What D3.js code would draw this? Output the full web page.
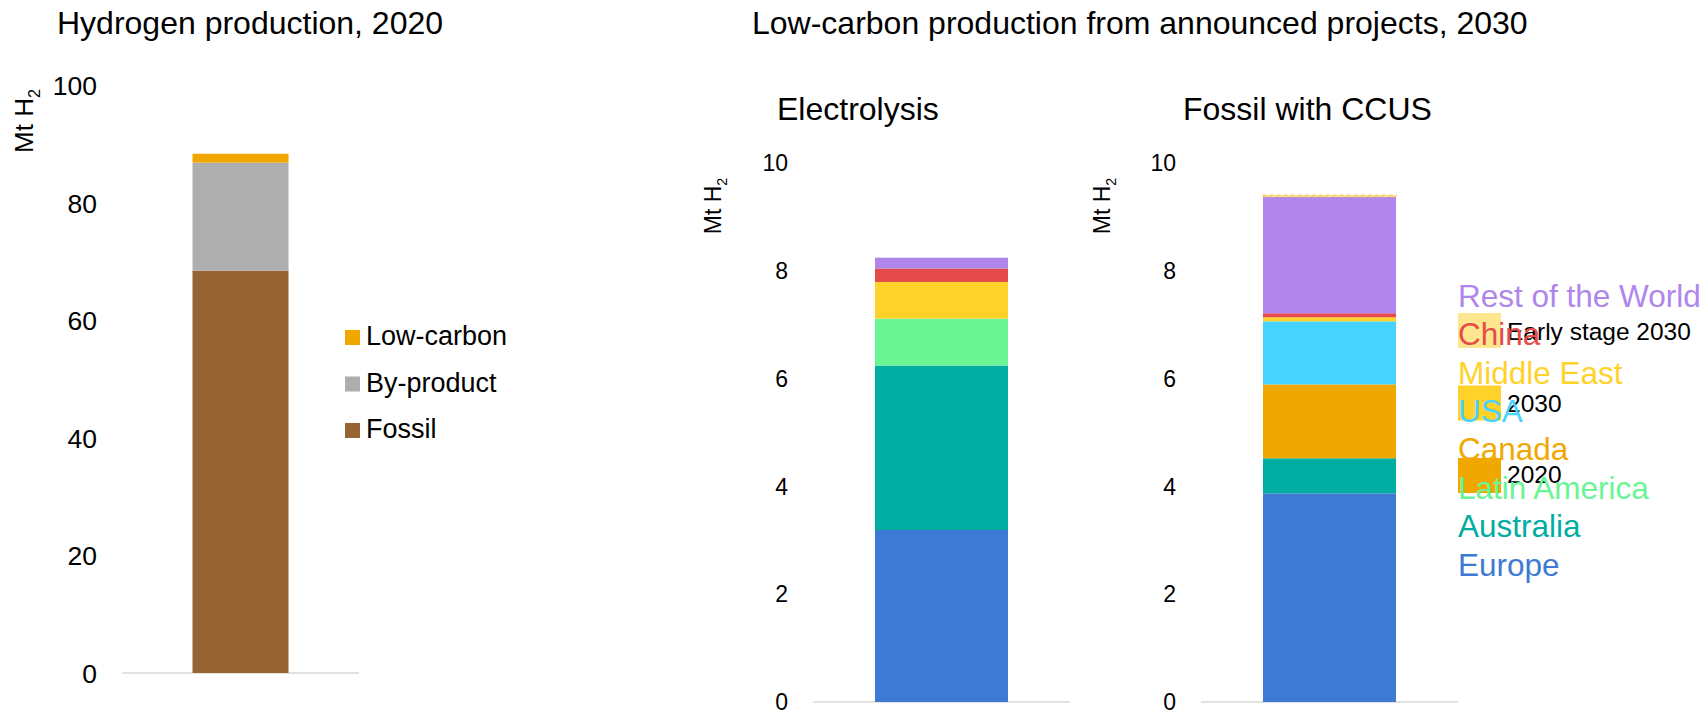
<!DOCTYPE html>
<html>
<head>
<meta charset="utf-8">
<script src="https://cdn.jsdelivr.net/npm/d3@7"></script>
<style>
    body { margin: 0; background: #fff; }
    svg { font-family: "Liberation Sans", Arial, sans-serif; }
</style>
</head>
<body>
<div id="chart"></div>
<script>

// hydrogen production 2020 (Mt H2)
const sources = ["Fossil", "By-product", "Low-carbon"];
const production2020 = [68.5, 18.4, 1.5];
const leftTicks = [0, 20, 40, 60, 80, 100];

// low-carbon production from announced projects, 2030 (Mt H2)
const routes = ["Electrolysis", "Fossil with CCUS"];
const regions = ["Europe", "Australia", "Latin America", "Canada", "USA", "Middle East", "China", "Rest of the World"];
const electrolysis = [3.19, 3.05, 0.87, 0, 0, 0.68, 0.25, 0.20];
const fossilCcus = [3.87, 0.65, 0, 1.37, 1.17, 0.075, 0.075, 2.16];
const earlyStage = [0, 0.03];
const rightTicks = [0, 2, 4, 6, 8, 10];

// status legend
const statusLabels = ["Early stage 2030", "2030", "2020"];

const sourceColors = {"Fossil": "#976434", "By-product": "#aeaeae", "Low-carbon": "#f0a800"};
const regionColors = {
    "Europe": "#3e7ad3", "Australia": "#00ada1", "Latin America": "#6af594", "Canada": "#f0a800",
    "USA": "#46d3ff", "Middle East": "#ffd22a", "China": "#e54b4b", "Rest of the World": "#b085ec"
};
const statusColors = ["#fee68e", "#ffd22a", "#f0a800"];

const W = 1706, H = 711;

let svg = d3.select("#chart").append("svg")
    .attr("width", W)
    .attr("height", H);

// titles
svg.append("text").attr("x", 57).attr("y", 34).attr("font-size", 32).text("Hydrogen production, 2020");
svg.append("text").attr("x", 752).attr("y", 34).attr("font-size", 32).text("Low-carbon production from announced projects, 2030");

function yLabel(x, y, size) {
    let t = svg.append("text")
        .attr("transform", "translate(" + x + "," + y + ") rotate(-90)")
        .attr("text-anchor", "middle")
        .attr("font-size", size);
    t.append("tspan").text("Mt H");
    t.append("tspan").attr("font-size", size * 0.62).attr("dy", size * 0.25).text("2");
}

function drawAxis(y, ticks, xRight, size, x1, x2) {
    svg.append("line")
        .attr("x1", x1).attr("x2", x2)
        .attr("y1", y(0)).attr("y2", y(0))
        .attr("stroke", "#d9d9d9").attr("stroke-width", 1.5);

    svg.append("g").selectAll("text")
        .data(ticks)
        .join("text")
        .attr("x", xRight)
        .attr("y", d => y(d))
        .attr("dy", "0.36em")
        .attr("text-anchor", "end")
        .attr("font-size", size)
        .text(d => d);
}

/* ---------- left panel ---------- */
let yLeft = d3.scaleLinear().domain([0, 100]).range([673, 85.6]);
let xLeft = d3.scaleBand().domain(["2020"]).range([122, 359]).padding(0.4234);

drawAxis(yLeft, leftTicks, 97, 26.5, 122, 359);
yLabel(33, 121, 26);

let leftRow = {year: "2020"};
sources.forEach((s, i) => leftRow[s] = production2020[i]);
let leftStack = d3.stack().keys(sources)([leftRow]);

svg.append("g").selectAll("rect")
    .data(leftStack)
    .join("rect")
    .attr("x", xLeft("2020"))
    .attr("width", xLeft.bandwidth())
    .attr("y", d => yLeft(d[0][1]))
    .attr("height", d => yLeft(d[0][0]) - yLeft(d[0][1]))
    .attr("fill", d => sourceColors[d.key]);

// legend, top entry first
let legLeft = svg.append("g");
sources.slice().reverse().forEach((s, i) => {
    let yy = 345 + i * 46.5;
    legLeft.append("rect").attr("x", 345).attr("y", yy - 15).attr("width", 15).attr("height", 15).attr("fill", sourceColors[s]);
    legLeft.append("text").attr("x", 366).attr("y", yy).attr("font-size", 27).text(s);
});

/* ---------- right panels ---------- */
let yRight = d3.scaleLinear().domain([0, 10]).range([702, 162.8]);

let panels = [
    {route: routes[0], values: electrolysis, early: earlyStage[0], x0: 813, x1: 1070, tickX: 788, labelX: 721, titleX: 777},
    {route: routes[1], values: fossilCcus, early: earlyStage[1], x0: 1201, x1: 1458, tickX: 1176, labelX: 1110, titleX: 1183}
];

panels.forEach(p => {
    let x = d3.scaleBand().domain([p.route]).range([p.x0, p.x1]).padding(0.318);

    drawAxis(yRight, rightTicks, p.tickX, 23, p.x0, p.x1);
    yLabel(p.labelX, 206, 23);

    svg.append("text").attr("x", p.titleX).attr("y", 120).attr("font-size", 32).text(p.route);

    let row = {route: p.route};
    regions.forEach((r, i) => row[r] = p.values[i]);
    let stack = d3.stack().keys(regions)([row]);

    svg.append("g").selectAll("rect")
        .data(stack.filter(d => d[0][1] > d[0][0]))
        .join("rect")
        .attr("x", x(p.route))
        .attr("width", x.bandwidth())
        .attr("y", d => yRight(d[0][1]))
        .attr("height", d => yRight(d[0][0]) - yRight(d[0][1]))
        .attr("fill", d => regionColors[d.key]);

    // early stage projects on top
    if (p.early > 0) {
        let total = d3.sum(p.values);
        svg.append("rect")
            .attr("x", x(p.route))
            .attr("width", x.bandwidth())
            .attr("y", yRight(total + p.early))
            .attr("height", yRight(total) - yRight(total + p.early))
            .attr("fill", statusColors[0])
            .attr("stroke", "#f5c542")
            .attr("stroke-width", 1)
            .attr("stroke-dasharray", "4,3");
    }
});

// status legend patches
let legStatus = svg.append("g");
statusLabels.forEach((s, i) => {
    legStatus.append("rect")
        .attr("x", 1458).attr("y", 313 + i * 72.5)
        .attr("width", 43).attr("height", 35)
        .attr("fill", statusColors[i]);
});

// region legend (overlaps the status legend, as in the source)
regions.slice().reverse().forEach((r, i) => {
    svg.append("text")
        .attr("x", 1458).attr("y", 306.7 + i * 38.4)
        .attr("font-size", 31.5)
        .attr("fill", regionColors[r])
        .text(r);
});

statusLabels.forEach((s, i) => {
    legStatus.append("text")
        .attr("x", 1507).attr("y", 340 + i * 71.5)
        .attr("font-size", 24.5)
        .text(s);
});

</script>
</body>
</html>
